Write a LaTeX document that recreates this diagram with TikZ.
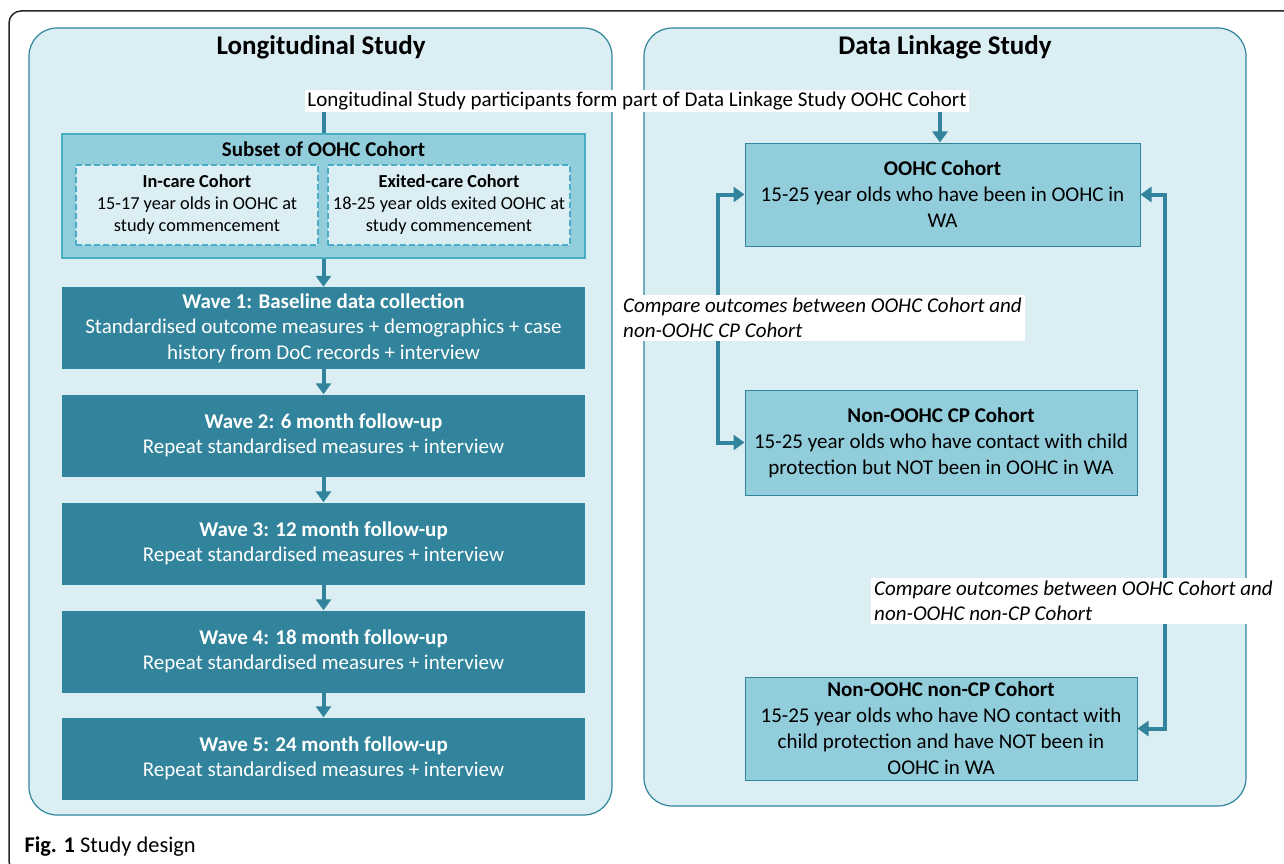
\documentclass[tikz,border=0pt]{standalone}
\usepackage{fontspec}
\setmainfont{Carlito}
\usetikzlibrary{arrows.meta}
\definecolor{paleblue}{HTML}{DAEEF3}
\definecolor{midblue}{HTML}{92CDDC}
\definecolor{darkteal}{HTML}{31849B}
\definecolor{edgeblue}{HTML}{4BACC6}
\begin{document}
\begin{tikzpicture}[x=1pt,y=-1pt,
  >={Triangle[width=15pt,length=11pt]},
  panel/.style={draw=darkteal,fill=paleblue,line width=1.2pt,rounded corners=28pt,inner sep=0pt},
  paneltitle/.style={font=\fontsize{27}{30}\selectfont\bfseries},
  subsetbox/.style={draw=edgeblue,fill=midblue,line width=1.2pt,minimum width=523pt,minimum height=124pt,inner sep=0pt},
  cohortbox/.style={draw=edgeblue,fill=paleblue,dashed,dash pattern=on 6pt off 3pt,line width=1.2pt,minimum width=242pt,minimum height=80pt,align=center,inner sep=0pt,font=\fontsize{18.3}{22}\selectfont},
  wavebox/.style={fill=darkteal,text=white,minimum width=523pt,minimum height=82pt,align=center,inner sep=0pt,font=\fontsize{21}{25.5}\selectfont},
  linkbox/.style={draw=darkteal,fill=midblue,line width=1pt,minimum width=395pt,minimum height=103pt,align=center,inner sep=0pt,font=\fontsize{21}{26}\selectfont},
  note/.style={fill=white,inner sep=3pt,align=left,font=\fontsize{21}{25}\selectfont},
  arr/.style={draw=darkteal,line width=4pt,->},
  link/.style={draw=darkteal,line width=4pt}]
  \useasboundingbox (0,0) rectangle (1284,864);
  \clip (0,0) rectangle (1284,864);
  \draw[line width=1.5pt,black!85,rounded corners=12pt] (9,11) rectangle (1320,873);

  \node[panel,minimum width=583pt,minimum height=787pt] (long) at (320.5,421.5) {};
  \node[panel,minimum width=602pt,minimum height=778pt] (dls) at (945,417) {};
  \node[paneltitle] (longtitle) at (321,47) {Longitudinal Study};
  \node[paneltitle] (dlstitle) at (945,47) {Data Linkage Study};

  \node[subsetbox] (subset) at (323.5,196) {};
  \node[font=\fontsize{21}{24}\selectfont\bfseries] (subsettitle) at (323.5,149) {Subset of OOHC Cohort};
  \node[cohortbox] (incare) at (197,205) {\textbf{In-care Cohort}\\15-17 year olds in OOHC at\\study commencement};
  \node[cohortbox] (exited) at (449,205) {\textbf{Exited-care Cohort}\\18-25 year olds exited OOHC at\\study commencement};

  \node[wavebox] (w1) at (323.5,328) {\textbf{Wave 1: Baseline data collection}\\Standardised outcome measures + demographics + case\\history from DoC records + interview};
  \node[wavebox] (w2) at (323.5,435.5) {\textbf{Wave 2: 6 month follow-up}\\Repeat standardised measures + interview};
  \node[wavebox] (w3) at (323.5,543.5) {\textbf{Wave 3: 12 month follow-up}\\Repeat standardised measures + interview};
  \node[wavebox] (w4) at (323.5,651.5) {\textbf{Wave 4: 18 month follow-up}\\Repeat standardised measures + interview};
  \node[wavebox] (w5) at (323.5,758.5) {\textbf{Wave 5: 24 month follow-up}\\Repeat standardised measures + interview};

  \node[linkbox] (oohc) at (942.5,194.5) {\textbf{OOHC Cohort}\\15-25 year olds who have been in OOHC in\\WA};
  \node[linkbox,minimum width=392pt,minimum height=105pt] (cp) at (941,442.5) {\textbf{Non-OOHC CP Cohort}\\15-25 year olds who have contact with child\\protection but NOT been in OOHC in WA};
  \node[linkbox,minimum width=392pt] (noncp) at (941,728.5) {\textbf{Non-OOHC non-CP Cohort}\\15-25 year olds who have NO contact with\\child protection and have NOT been in\\OOHC in WA};

  \node[note,inner sep=2pt] (part) at (637,101) {Longitudinal Study participants form part of Data Linkage Study OOHC Cohort};

  \draw[link] (part.south -| subset.north) -- (subset.north);
  \draw[arr] (part.south -| 940,0) -- (oohc.north -| 940,0);
  \draw[arr] (subset.south) -- (w1.north);
  \draw[arr] (w1.south) -- (w2.north);
  \draw[arr] (w2.south) -- (w3.north);
  \draw[arr] (w3.south) -- (w4.north);
  \draw[arr] (w4.south) -- (w5.north);
  \draw[link,<->] (oohc.west) -- ++(-27,0) |- (cp.west);
  \draw[link,<->] (oohc.east) -- ++(24,0) |- (noncp.east);

  \node[note,anchor=west,font=\fontsize{21}{25}\selectfont\itshape] (cmpcp) at (620,318) {Compare outcomes between OOHC Cohort and\\non-OOHC CP Cohort};
  \node[note,anchor=west,font=\fontsize{21}{25}\selectfont\itshape] (cmpnoncp) at (871,601) {Compare outcomes between OOHC Cohort and\\non-OOHC non-CP Cohort};

  \node[anchor=west,font=\fontsize{22.4}{26}\selectfont] (caption) at (21,847) {\textbf{Fig. 1} Study design};
\end{tikzpicture}
\end{document}
